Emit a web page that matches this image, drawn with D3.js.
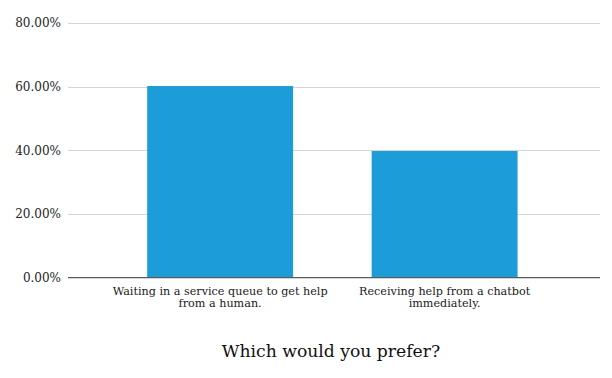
<!DOCTYPE html>
<html>
<head>
<meta charset="utf-8">
<script src="https://cdn.jsdelivr.net/npm/d3@7"></script>
<style>
  body { margin: 0; background: #fff; }
  svg { display: block; }
</style>
</head>
<body>
<svg id="drawing_region"></svg>
<script>
const categories = [
    ["Waiting in a service queue to get help", "from a human."],
    ["Receiving help from a chatbot", "immediately."]
];
const values = [0.602, 0.398];
const yTicks = [0, 0.2, 0.4, 0.6, 0.8];
const title = "Which would you prefer?";

const width = 612, height = 378;
const margin = {top: 23, right: 12, bottom: 100, left: 68};

const svg = d3.select('#drawing_region')
    .attr('width', width)
    .attr('height', height);

const data = values.map((v, i) => ({ label: categories[i], value: v, key: i }));

const xscale = d3.scaleBand()
    .domain(data.map(d => d.key))
    .range([margin.left, width - margin.right])
    .paddingInner(0.35)
    .paddingOuter(0.36)
    .align(0.49);

const yscale = d3.scaleLinear()
    .domain([0, 0.8])
    .range([height - margin.bottom - 0.3, margin.top]);

// grid lines
svg.append('g')
    .selectAll('line')
    .data(yTicks.slice(1))
    .join('line')
    .attr('x1', margin.left)
    .attr('x2', width - margin.right)
    .attr('y1', d => Math.round(yscale(d)) + 0.5)
    .attr('y2', d => Math.round(yscale(d)) + 0.5)
    .attr('stroke', '#d4d4d4')
    .attr('stroke-width', 1);

// y axis labels
const yaxis = d3.axisLeft(yscale)
    .tickValues(yTicks)
    .tickFormat(d => (d * 100).toFixed(2) + '%')
    .tickSize(0)
    .tickPadding(7);

svg.append('g')
    .attr('transform', `translate(${margin.left}, 0)`)
    .call(yaxis)
    .call(g => g.select('.domain').remove())
    .selectAll('text')
    .attr('font-family', 'DejaVu Serif')
    .attr('font-size', '12px')
    .attr('fill', '#222');

// bars
svg.append('g')
    .selectAll('rect')
    .data(data)
    .join('rect')
    .attr('x', d => xscale(d.key))
    .attr('y', d => yscale(d.value))
    .attr('width', xscale.bandwidth())
    .attr('height', d => yscale(0) - yscale(d.value))
    .attr('fill', '#1c9dd9');

// baseline
svg.append('line')
    .attr('x1', margin.left)
    .attr('x2', width - margin.right)
    .attr('y1', yscale(0))
    .attr('y2', yscale(0))
    .attr('stroke', '#5a5a5a')
    .attr('stroke-width', 1.3);

// category labels
const labels = svg.append('g')
    .selectAll('text')
    .data(data)
    .join('text')
    .attr('x', d => xscale(d.key) + xscale.bandwidth() / 2)
    .attr('y', yscale(0) + 17)
    .attr('text-anchor', 'middle')
    .attr('font-family', 'DejaVu Serif')
    .attr('font-size', '11.2px')
    .attr('fill', '#1a1a1a');

labels.selectAll('tspan')
    .data(d => d.label)
    .join('tspan')
    .attr('x', function() { return d3.select(this.parentNode).attr('x'); })
    .attr('dy', (d, i) => i === 0 ? 0 : 11.8)
    .text(d => d);

// title
svg.append('text')
    .attr('x', 331)
    .attr('y', 357)
    .attr('text-anchor', 'middle')
    .attr('font-family', 'DejaVu Serif')
    .attr('font-size', '17.2px')
    .attr('fill', '#111')
    .text(title);
</script>
</body>
</html>
